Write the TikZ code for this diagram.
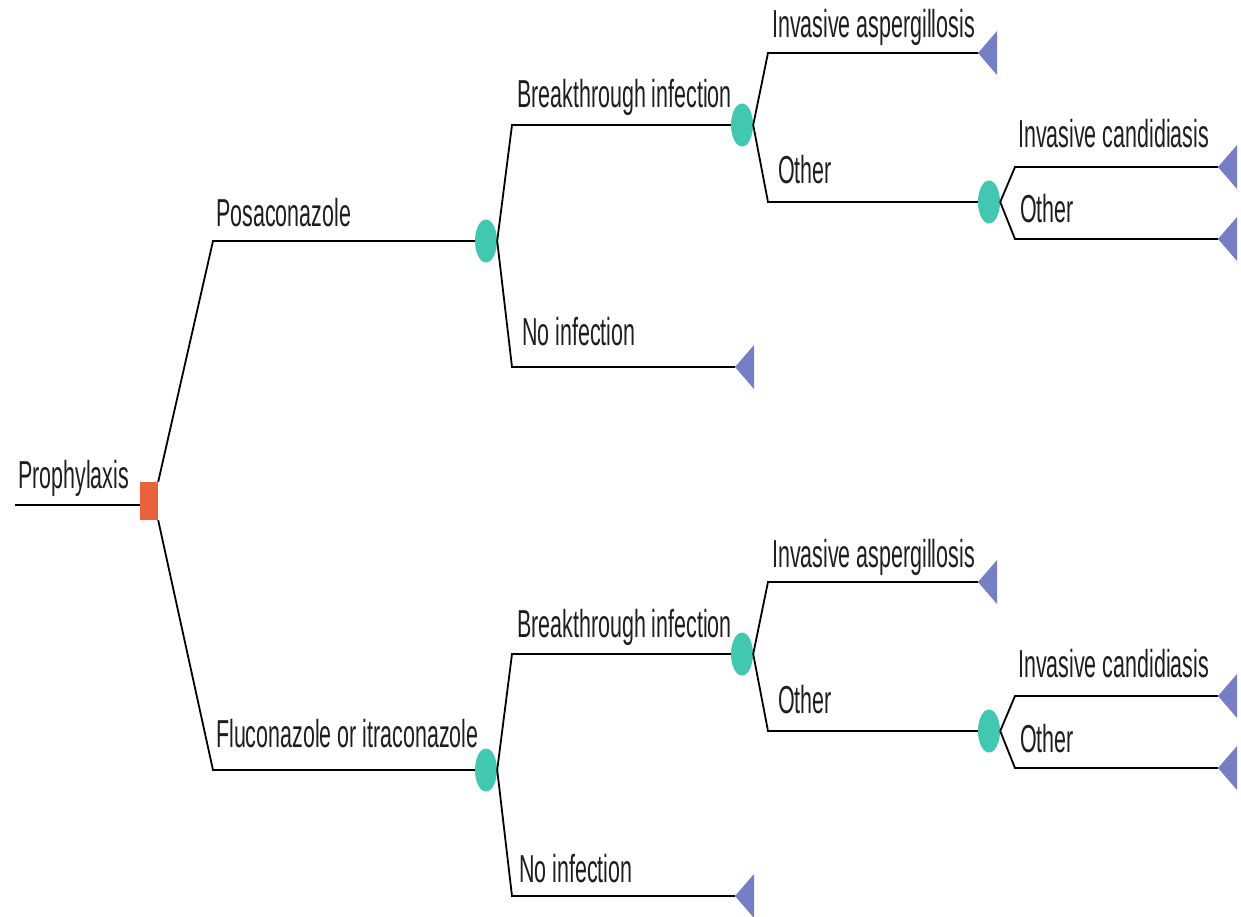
\documentclass[tikz,border=0pt]{standalone}
\usepackage{fontspec}
\setmainfont{Liberation Sans}[FakeStretch=0.55]
\usetikzlibrary{shapes.geometric}
\definecolor{decide}{RGB}{232,98,60}
\definecolor{chance}{RGB}{66,200,176}
\definecolor{ends}{RGB}{118,126,198}
\definecolor{ink}{RGB}{30,30,30}
\begin{document}
\begin{tikzpicture}[x=1pt,y=-1pt,
  branch/.style={draw=black,line width=1.8pt},
  decision/.style={rectangle,fill=decide,minimum width=18pt,minimum height=38pt,inner sep=0pt},
  chancenode/.style={ellipse,fill=chance,minimum width=22pt,minimum height=43pt,inner sep=0pt},
  terminal/.style={fill=ends},
  lbl/.style={anchor=base west,inner sep=0pt,text=ink,font=\fontsize{39}{40}\selectfont}]
\useasboundingbox (0,0) rectangle (1241,917);

% root decision
\node[decision] (d) at (149,501) {};
\coordinate (root) at (15,505);
\draw[branch] (root) -- (root -| d.west);
\node[lbl] (lroot) at (18,488) {Prophylaxis};

% the two treatment arms share one layout, shifted down
\foreach \h/\dy/\treat/\tb/\nb/\nx in {a/0/Posaconazole/227/345/522, b/529/Fluconazole or itraconazole/747/882/519} {
  \node[chancenode] (tr\h) at (486,241+\dy) {};
  \coordinate (p\h) at (213,241+\dy);
  \node[lbl] (lt\h) at (216,\tb) {\treat};

  \coordinate (bt\h) at (512,125+\dy);
  \coordinate (ni\h) at (512,367+\dy);
  \node[chancenode] (bx\h) at (742,125+\dy) {};
  \coordinate (nt\h) at (735,367+\dy);
  \node[lbl] (lb\h) at (517,108+\dy) {Breakthrough infection};
  \node[lbl] (ln\h) at (\nx,\nb) {No infection};
  \draw[branch] (tr\h.east) -- (bt\h) -- (bx\h.west);
  \draw[branch] (tr\h.east) -- (ni\h) -- (nt\h);

  \coordinate (as\h) at (768,53+\dy);
  \coordinate (ot\h) at (768,202+\dy);
  \coordinate (at\h) at (978,53+\dy);
  \node[chancenode] (ox\h) at (989,202+\dy) {};
  \node[lbl] (la\h) at (772,38+\dy) {Invasive aspergillosis};
  \node[lbl] (lo\h) at (778,184+\dy) {Other};
  \draw[branch] (bx\h.east) -- (as\h) -- (at\h);
  \draw[branch] (bx\h.east) -- (ot\h) -- (ox\h.west);

  \coordinate (ca\h) at (1015,167+\dy);
  \coordinate (oo\h) at (1015,239+\dy);
  \coordinate (ct\h) at (1218,167+\dy);
  \coordinate (oe\h) at (1218,239+\dy);
  \node[lbl] (lc\h) at (1018,148+\dy) {Invasive candidiasis};
  \node[lbl] (lq\h) at (1020,223+\dy) {Other};
  \draw[branch] (ox\h.east) -- (ca\h) -- (ct\h);
  \draw[branch] (ox\h.east) -- (oo\h) -- (oe\h);

  \foreach \t in {nt\h,at\h,ct\h,oe\h}
    \fill[terminal] (\t) -- ++(19,-22) -- ++(0,44) -- cycle;
}

% arms leaving the root decision
\draw[branch] (d.north east) -- (pa) -- (tra.west);
\draw[branch] (d.south east) -- (pb) -- (trb.west);
\end{tikzpicture}
\end{document}
